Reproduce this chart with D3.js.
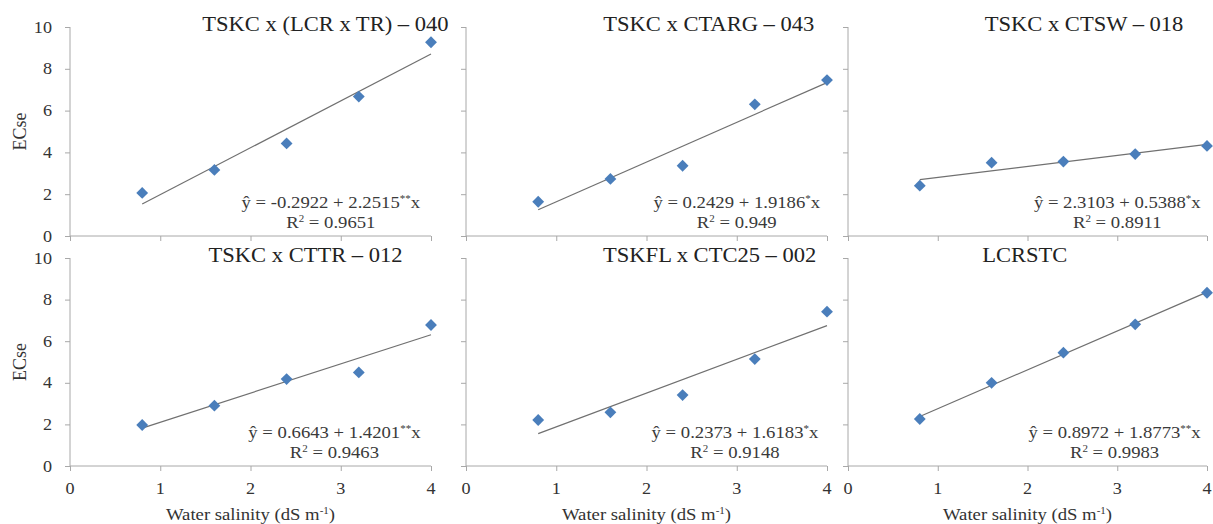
<!DOCTYPE html>
<html><head><meta charset="utf-8">
<script src="https://cdn.jsdelivr.net/npm/d3@7"></script>
<style>
html,body{margin:0;padding:0;background:#fff;}
svg{display:block;}
</style></head>
<body>
<svg id="chart" width="1213" height="524" font-family="'Liberation Serif', 'Times New Roman', Tinos, serif"></svg>
<script>
// ---------- data ----------
const waterSalinity = [0.8, 1.6, 2.4, 3.2, 4.0];
const xTicks = [0, 1, 2, 3, 4];
const yTicks = [0, 2, 4, 6, 8, 10];
const panelTitles = [
  "TSKC x (LCR x TR) \u2013 040",
  "TSKC x CTARG \u2013 043",
  "TSKC x CTSW \u2013 018",
  "TSKC x CTTR \u2013 012",
  "TSKFL x CTC25 \u2013 002",
  "LCRSTC"
];
const ecse040 = [2.06, 3.16, 4.43, 6.67, 9.27];
const ecse043 = [1.64, 2.73, 3.36, 6.30, 7.46];
const ecse018 = [2.41, 3.51, 3.56, 3.92, 4.31];
const ecse012 = [1.97, 2.90, 4.18, 4.50, 6.78];
const ecse002 = [2.21, 2.58, 3.41, 5.14, 7.42];
const ecseLCRSTC = [2.26, 4.00, 5.45, 6.81, 8.33];
const eqIntercepts = ["-0.2922", "0.2429", "2.3103", "0.6643", "0.2373", "0.8972"];
const eqSlopes = ["2.2515", "1.9186", "0.5388", "1.4201", "1.6183", "1.8773"];
const eqStars = ["**", "*", "*", "**", "*", "**"];
const rSquared = ["0.9651", "0.949", "0.8911", "0.9463", "0.9148", "0.9983"];
const xLabel = "Water salinity (dS m";
const yLabel = "ECse";

// ---------- layout ----------
const seriesList = [ecse040, ecse043, ecse018, ecse012, ecse002, ecseLCRSTC];
const colX = [[70, 431], [466, 827], [848, 1207]];
const rowY = [[236, 27], [466, 258]];
const titleX = [2.83, 2.69, 2.63, 2.61, 2.70, 1.97];
const eqX = [2.89, 3.0, 3.0, 2.93, 2.98, 2.97];
const STRETCH = 1.1;
const FONT = "'Liberation Serif', 'Times New Roman', Tinos, serif";

const svg = d3.select("#chart");
const axisColor = "#a8a8a8";
const markerColor = "#4a7ebb";
const lineColor = "#707070";

function stretchedText(g, x, y, size, anchor, color) {
  return g.append("text")
    .attr("transform", `translate(${x},${y}) scale(${STRETCH},1)`)
    .attr("font-family", FONT)
    .attr("font-size", size)
    .attr("text-anchor", anchor)
    .attr("fill", color);
}

seriesList.forEach((vals, i) => {
  const col = i % 3, row = Math.floor(i / 3);
  const x = d3.scaleLinear().domain([0, 4]).range(colX[col]);
  const y = d3.scaleLinear().domain([0, 10]).range(rowY[row]);
  const g = svg.append("g");

  // y axis
  const yAx = g.append("g").attr("transform", `translate(${colX[col][0]},0)`)
    .call(d3.axisLeft(y).tickValues(yTicks).tickSize(5).tickFormat(""));
  yAx.selectAll("path,line").attr("stroke", axisColor).attr("stroke-width", 1);
  yAx.select(".domain").attr("d", `M0,${rowY[row][0]}V${rowY[row][1]}`);
  // x axis
  const xAx = g.append("g").attr("transform", `translate(0,${rowY[row][0]})`)
    .call(d3.axisBottom(x).tickValues(xTicks).tickSize(5).tickFormat(""));
  xAx.selectAll("path,line").attr("stroke", axisColor).attr("stroke-width", 1);
  xAx.select(".domain").attr("d", `M${colX[col][0]},0H${colX[col][1]}`);

  // y tick labels on left column
  if (col === 0) {
    yTicks.forEach(t => {
      stretchedText(g, colX[col][0] - 18, y(t) + 5.5, 16.5, "end", "#333").text(t);
    });
    g.append("text")
      .attr("transform", `translate(26,${(rowY[row][0] + rowY[row][1]) / 2}) rotate(-90)`)
      .attr("font-family", FONT)
      .attr("font-size", 18).attr("text-anchor", "middle").attr("fill", "#333")
      .text(yLabel);
  }
  // x tick labels on bottom row
  if (row === 1) {
    xTicks.forEach(t => {
      stretchedText(g, x(t), 494, 16.5, "middle", "#333").text(t);
    });
    const xt = stretchedText(g, x(2), 520, 17, "middle", "#333");
    xt.append("tspan").text(xLabel);
    xt.append("tspan").attr("font-size", 10).attr("dy", -6).text("-1");
    xt.append("tspan").attr("dy", 6).text(")");
  }

  // least-squares trendline
  const mx = d3.mean(waterSalinity), my = d3.mean(vals);
  const sxy = d3.sum(waterSalinity, (xv, k) => (xv - mx) * (vals[k] - my));
  const sxx = d3.sum(waterSalinity, xv => (xv - mx) ** 2);
  const b = sxy / sxx, a = my - b * mx;
  const x0 = waterSalinity[0], x1 = waterSalinity[waterSalinity.length - 1];
  g.append("line")
    .attr("x1", x(x0)).attr("y1", y(a + b * x0))
    .attr("x2", x(x1)).attr("y2", y(a + b * x1))
    .attr("stroke", lineColor).attr("stroke-width", 1.2);

  // markers
  g.selectAll("path.pt").data(vals).join("path")
    .attr("class", "pt")
    .attr("d", d3.symbol(d3.symbolSquare, 70)())
    .attr("transform", (d, k) => `translate(${x(waterSalinity[k])},${y(d)}) rotate(45)`)
    .attr("fill", markerColor);

  // title
  stretchedText(g, x(titleX[i]), y(9.8), 20.5, "middle", "#222").text(panelTitles[i]);

  // equation
  const eq = stretchedText(g, x(eqX[i]), y(1.34), 17, "middle", "#3a3a3a");
  eq.append("tspan").text(`\u0177 = ${eqIntercepts[i]} + ${eqSlopes[i]}`);
  eq.append("tspan").attr("font-size", 10).attr("dy", -6).text(eqStars[i]);
  eq.append("tspan").attr("dy", 6).text("x");
  const r2 = stretchedText(g, x(eqX[i]), y(0.38), 17, "middle", "#3a3a3a");
  r2.append("tspan").text("R");
  r2.append("tspan").attr("font-size", 10).attr("dy", -6).text("2");
  r2.append("tspan").attr("dy", 6).text(` = ${rSquared[i]}`);
});
</script>
</body></html>
